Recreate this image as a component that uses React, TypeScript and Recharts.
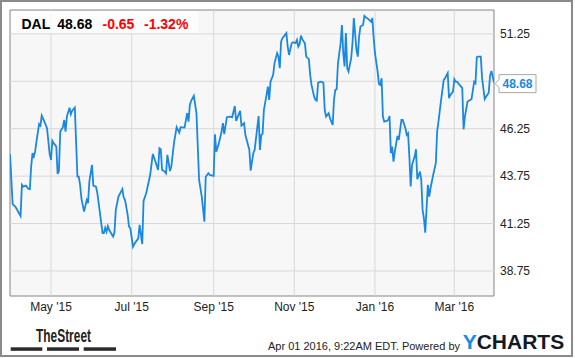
import { LineChart, Line, XAxis, YAxis, CartesianGrid, ReferenceLine, ReferenceArea } from 'recharts';

// DAL daily closes, Mar 31 2015 - Mar 31 2016
const dates = [
    '2015-03-31', '2015-04-02', '2015-04-04', '2015-04-08', '2015-04-09', '2015-04-10', '2015-04-12', '2015-04-14', '2015-04-15', '2015-04-16',
    '2015-04-17', '2015-04-18', '2015-04-19', '2015-04-20', '2015-04-22', '2015-04-23', '2015-04-24', '2015-04-26', '2015-04-28', '2015-04-30',
    '2015-05-01', '2015-05-02', '2015-05-03', '2015-05-05', '2015-05-06', '2015-05-07', '2015-05-08', '2015-05-10', '2015-05-11', '2015-05-12',
    '2015-05-13', '2015-05-15', '2015-05-16', '2015-05-17', '2015-05-19', '2015-05-21', '2015-05-22', '2015-05-23', '2015-05-24', '2015-05-26',
    '2015-05-28', '2015-05-29', '2015-05-30',
    '2015-06-01', '2015-06-02', '2015-06-04', '2015-06-05', '2015-06-09', '2015-06-10', '2015-06-11', '2015-06-12', '2015-06-13', '2015-06-14',
    '2015-06-17', '2015-06-18', '2015-06-19', '2015-06-21', '2015-06-24', '2015-06-25', '2015-06-26', '2015-06-28', '2015-06-29', '2015-06-30',
    '2015-07-02', '2015-07-03', '2015-07-06', '2015-07-07', '2015-07-09', '2015-07-10', '2015-07-12', '2015-07-15', '2015-07-17', '2015-07-19',
    '2015-07-21', '2015-07-22', '2015-07-23', '2015-07-24', '2015-07-26', '2015-07-27', '2015-07-28', '2015-07-30', '2015-07-31',
    '2015-08-02', '2015-08-04', '2015-08-06', '2015-08-07', '2015-08-10', '2015-08-12', '2015-08-13', '2015-08-14', '2015-08-15', '2015-08-17',
    '2015-08-19', '2015-08-21', '2015-08-23', '2015-08-25', '2015-08-26', '2015-08-28', '2015-08-29',
    '2015-09-01', '2015-09-02', '2015-09-03', '2015-09-05', '2015-09-07', '2015-09-08', '2015-09-09', '2015-09-11', '2015-09-13', '2015-09-15',
    '2015-09-17', '2015-09-18', '2015-09-21', '2015-09-22', '2015-09-24', '2015-09-25', '2015-09-28', '2015-09-29',
    '2015-10-01', '2015-10-02', '2015-10-05', '2015-10-06', '2015-10-07', '2015-10-08', '2015-10-09', '2015-10-11', '2015-10-12', '2015-10-13',
    '2015-10-14', '2015-10-16', '2015-10-17', '2015-10-19', '2015-10-20', '2015-10-21', '2015-10-22', '2015-10-23', '2015-10-25', '2015-10-26',
    '2015-10-27', '2015-10-28', '2015-10-30', '2015-10-31',
    '2015-11-02', '2015-11-03', '2015-11-04', '2015-11-05', '2015-11-06', '2015-11-07', '2015-11-09', '2015-11-10', '2015-11-12', '2015-11-13',
    '2015-11-14', '2015-11-16', '2015-11-17', '2015-11-18', '2015-11-19', '2015-11-21', '2015-11-23', '2015-11-24', '2015-11-25', '2015-11-27',
    '2015-11-28', '2015-11-30',
    '2015-12-01', '2015-12-02', '2015-12-03', '2015-12-04', '2015-12-06', '2015-12-07', '2015-12-08', '2015-12-09', '2015-12-10', '2015-12-11',
    '2015-12-12', '2015-12-14', '2015-12-15', '2015-12-16', '2015-12-18', '2015-12-19', '2015-12-20', '2015-12-21', '2015-12-23', '2015-12-24',
    '2015-12-25', '2015-12-27', '2015-12-29', '2015-12-30', '2015-12-31',
    '2016-01-01', '2016-01-03', '2016-01-04', '2016-01-05', '2016-01-06', '2016-01-07', '2016-01-08', '2016-01-10', '2016-01-11', '2016-01-12',
    '2016-01-13', '2016-01-14', '2016-01-15', '2016-01-16', '2016-01-18', '2016-01-19', '2016-01-21', '2016-01-22', '2016-01-24', '2016-01-25',
    '2016-01-26', '2016-01-27', '2016-01-28', '2016-01-29', '2016-01-31',
    '2016-02-01', '2016-02-02', '2016-02-04', '2016-02-05', '2016-02-06', '2016-02-07', '2016-02-08', '2016-02-10', '2016-02-11', '2016-02-12',
    '2016-02-14', '2016-02-16', '2016-02-17', '2016-02-18', '2016-02-20', '2016-02-22', '2016-02-23', '2016-02-25', '2016-02-26', '2016-02-27',
    '2016-02-29',
    '2016-03-01', '2016-03-02', '2016-03-03', '2016-03-05', '2016-03-07', '2016-03-08', '2016-03-09', '2016-03-11', '2016-03-13', '2016-03-14',
    '2016-03-16', '2016-03-17', '2016-03-18', '2016-03-19', '2016-03-21', '2016-03-22', '2016-03-24', '2016-03-25', '2016-03-27', '2016-03-28',
    '2016-03-29', '2016-03-30', '2016-03-31',
];

const closes = [
    44.91, 42.27, 42.14, 41.65, 43.29, 43.20, 43.25, 43.07, 43.06, 44.25,
    44.96, 44.78, 45.04, 45.57, 46.49, 46.41, 46.94, 46.62, 46.28, 44.91,
    44.60, 45.61, 45.49, 45.31, 43.87, 44.02, 46.10, 46.33, 46.71, 46.10,
    46.89, 47.36, 47.01, 47.20, 47.36, 43.72, 43.72, 43.29, 42.58, 41.88,
    42.49, 42.32, 43.46,
    44.34, 43.25, 43.20, 42.88, 40.74, 40.74, 41.03, 40.82, 41.12, 40.91,
    40.56, 40.79, 41.97, 42.67, 43.07, 42.62, 42.49, 41.70, 41.09, 41.00,
    40.03, 40.17, 40.47, 41.18, 40.17, 42.44, 42.85, 43.81, 44.92, 44.51,
    44.08, 45.22, 45.17, 44.08, 43.99, 43.90, 44.87, 44.02, 44.25,
    45.49, 46.33, 46.04, 46.33, 46.31, 47.07, 46.62, 47.50, 47.72, 47.98,
    47.07, 43.55, 42.67, 41.35, 43.72, 43.90, 43.81,
    43.76, 45.96, 45.04, 45.49, 46.10, 46.54, 45.96, 46.86, 46.89, 46.86,
    47.45, 46.66, 47.20, 46.41, 46.54, 45.92, 45.13, 44.04,
    44.96, 45.13, 46.92, 45.13, 45.92, 45.98, 47.24, 48.03, 48.47, 47.77,
    48.73, 49.09, 49.70, 50.23, 50.05, 49.44, 50.84, 51.02, 51.20, 51.29,
    50.58, 50.14, 50.76, 50.81,
    50.76, 50.93, 50.58, 50.71, 51.16, 50.97, 50.76, 50.05, 49.92, 49.09,
    48.56, 47.94, 47.77, 47.73, 48.68, 48.73, 48.68, 47.24, 46.89, 47.07,
    46.80, 46.45,
    47.77, 48.30, 48.33, 49.70, 50.76, 51.72, 50.23, 49.53, 51.29, 49.44,
    49.26, 49.97, 50.76, 52.08, 50.41, 50.05, 51.11, 51.64, 51.72, 52.20,
    52.13, 52.03, 51.90, 52.08, 51.04,
    50.23, 49.26, 48.61, 48.56, 48.91, 46.89, 46.62, 46.66, 46.71, 46.92,
    44.96, 45.31, 44.51, 45.04, 45.87, 45.66, 46.71, 46.71, 46.28, 45.92,
    46.01, 44.78, 43.20, 44.34, 44.78,
    45.17, 43.59, 43.99, 43.55, 41.97, 41.53, 40.77, 43.29, 42.67, 43.11,
    43.81, 44.43, 46.10, 46.62, 47.77, 48.82, 48.91, 49.18, 47.86, 48.03,
    48.21,
    48.86, 48.73, 48.73, 48.56, 48.39, 46.22, 46.89, 47.68, 47.77, 47.81,
    48.73, 48.65, 50.02, 50.05, 50.05, 48.91, 47.81, 47.94, 48.15, 49.03,
    49.30, 49.00, 48.68,
];

const ticker = 'DAL';
const lastPrice = 48.68;
const change = '-0.65';
const changePct = '-1.32%';

const monthTicks = ['2015-05-01', '2015-07-01', '2015-09-01', '2015-11-01', '2016-01-01', '2016-03-01'];
const gridPrices = [38.75, 41.25, 43.75, 46.25, 48.75, 51.25];
const priceLabels = [38.75, 41.25, 43.75, 46.25, 51.25];

const MONTHS = ['Jan', 'Feb', 'Mar', 'Apr', 'May', 'Jun', 'Jul', 'Aug', 'Sep', 'Oct', 'Nov', 'Dec'];
const START = Date.UTC(2015, 2, 31);
const DAY = 86400000;

const toDay = (s: string) => {
    const [y, m, d] = s.split('-').map(Number);
    return (Date.UTC(y, m - 1, d) - START) / DAY;
};

const fmtMonth = (t: number) => {
    const d = new Date(START + t * DAY);
    return `${MONTHS[d.getUTCMonth()]} '${String(d.getUTCFullYear()).slice(2)}`;
};

const data = dates.map((d, i) => ({ t: toDay(d), close: closes[i] }));
const xDomain = [data[0].t, data[data.length - 1].t];
const yDomain = [37.43, 52.51];
const yTicks = [...priceLabels, lastPrice].sort((a, b) => a - b);

const FONT = '"Liberation Sans", Arial, sans-serif';
const BLUE = '#1a88e2';

const PriceTick = (props: any) => {
    const { x, y, payload } = props;
    if (payload.value === lastPrice) {
        const c = y + 1;
        return (
            <g>
                <path
                    d={`M${x - 5},${c} L${x - 1},${c - 4} L${x - 1},${c - 9} L${x + 36},${c - 9} L${x + 36},${c + 9} L${x - 1},${c + 9} L${x - 1},${c + 4} Z`}
                    fill="#fff" stroke="#a8a8a8" strokeWidth={1}
                />
                <text x={x + 2.5} y={y + 5.6} fill={BLUE} fontSize={12} fontWeight="bold" fontFamily={FONT}>
                    {lastPrice.toFixed(2)}
                </text>
            </g>
        );
    }
    return (
        <text x={x} y={y} dy={4.3} fill="#222" fontSize={12} fontFamily={FONT}>
            {payload.value.toFixed(2)}
        </text>
    );
};

export default function App() {
    return (
        <div style={{ position: 'absolute', left: 0, top: 0, width: 575, height: 358, background: '#fff', fontFamily: FONT }}>
            <LineChart width={575} height={358} data={data} margin={{ top: 10, right: 0, bottom: 32, left: 10 }}>
                <CartesianGrid horizontal={false} vertical={false} fill="#f7f7f7" />
                {gridPrices.map(v => (
                    <ReferenceLine key={`h-${v}`} y={v} stroke="#d8d8d8" strokeWidth={1} />
                ))}
                {monthTicks.map(m => (
                    <ReferenceLine key={`v-${m}`} x={toDay(m)} stroke="#d8d8d8" strokeWidth={1} />
                ))}
                <XAxis
                    type="number"
                    dataKey="t"
                    domain={xDomain}
                    ticks={monthTicks.map(toDay)}
                    tickFormatter={fmtMonth}
                    interval={0}
                    tickLine={false}
                    axisLine={false}
                    tickSize={0}
                    tickMargin={6}
                    height={30}
                    allowDataOverflow
                    tick={{ fontSize: 12, fill: '#222', fontFamily: FONT }}
                />
                <YAxis
                    orientation="right"
                    type="number"
                    domain={yDomain}
                    ticks={yTicks}
                    interval={0}
                    width={81}
                    tickLine={false}
                    axisLine={false}
                    tickSize={0}
                    tickMargin={6}
                    allowDataOverflow
                    tick={<PriceTick />}
                />
                <Line
                    type="linear"
                    dataKey="close"
                    stroke={BLUE}
                    strokeWidth={1.8}
                    dot={false}
                    isAnimationActive={false}
                />
                <ReferenceArea
                    x1={xDomain[0]}
                    x2={xDomain[1]}
                    y1={yDomain[0]}
                    y2={yDomain[1]}
                    fill="none"
                    fillOpacity={0}
                    stroke="#858585"
                    strokeWidth={1}
                />
            </LineChart>

            <svg width={575} height={358} style={{ position: 'absolute', left: 0, top: 0, pointerEvents: 'none' }}>
                <rect x={1} y={1} width={571} height={355} fill="none" stroke="#8a8a8a" strokeWidth={2} />

                {/* quote header */}
                <rect x={11} y={11} width={187} height={22} fill="#fff" fillOpacity={0.75} />
                <g fontFamily={FONT} fontSize={14} fontWeight="bold">
                    <text x={21.5} y={28.5} fill="#000">{ticker}</text>
                    <text x={57.3} y={28.5} fill="#000">{lastPrice.toFixed(2)}</text>
                    <text x={102.5} y={28.5} fill="#f00">{change}</text>
                    <text x={144} y={28.5} fill="#f00">{changePct}</text>
                </g>

                {/* footer */}
                <text x={36} y={341.7} fontFamily={FONT} fontSize={19} fontWeight="bold" fill="#222"
                    textLength={55} lengthAdjust="spacingAndGlyphs">TheStreet</text>
                <rect x={10.7} y={347.3} width={31.6} height={3.5} fill="#2b2b2b" />
                <rect x={47} y={347.3} width={32} height={3.5} fill="#2b2b2b" />
                <rect x={83.7} y={347.3} width={32.3} height={3.5} fill="#2b2b2b" />

                <text x={268} y={349.5} fontFamily={FONT} fontSize={11} fill="#222">
                    Apr 01 2016, 9:22AM EDT.  Powered by
                </text>
                <text x={462.7} y={349} fontFamily={FONT} fontSize={21} fontWeight="bold">
                    <tspan fill="#1a8ae0">Y</tspan>
                    <tspan fill="#141a24">CHARTS</tspan>
                </text>
            </svg>
        </div>
    );
}
